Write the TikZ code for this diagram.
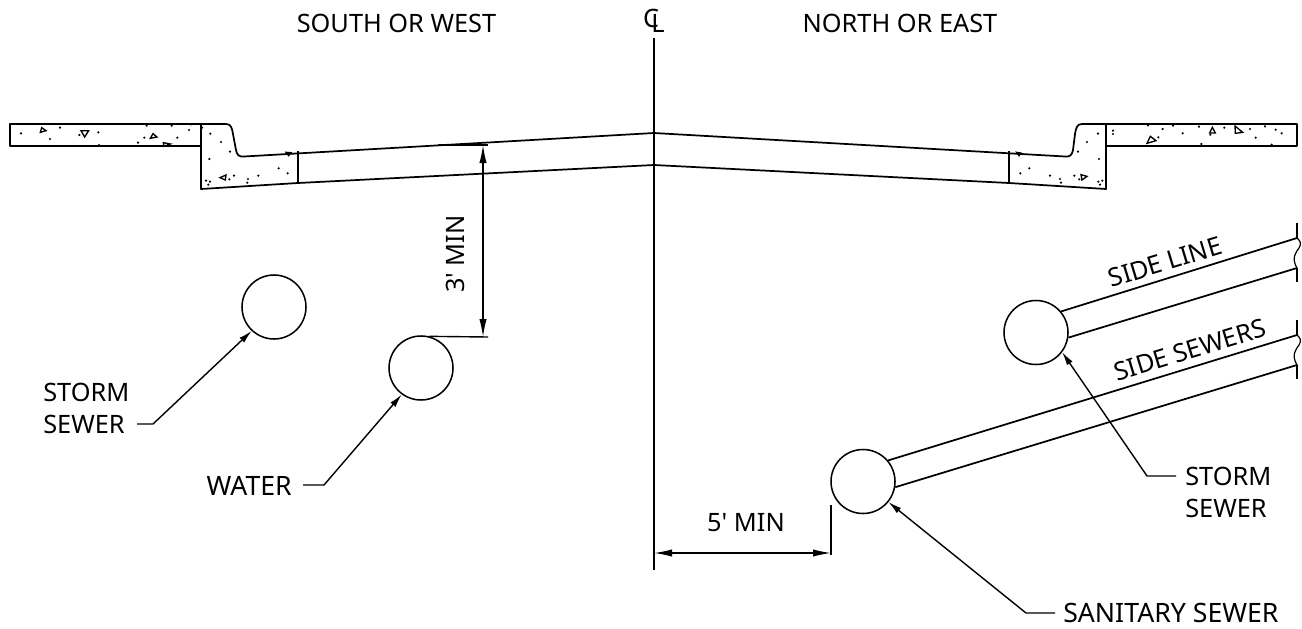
\documentclass[tikz,border=0pt]{standalone}
\usepackage{fontspec}
\newfontfamily\labelfont{Noto Sans}
\usetikzlibrary{arrows.meta}
\tikzset{
  every node/.style={font=\labelfont\fontsize{19pt}{24pt}\selectfont,inner sep=0pt,text=black},
  wide text/.style={font=\labelfont\fontsize{20pt}{24pt}\selectfont},
  ln/.style={line width=1.3pt,line join=round},
  thin ln/.style={line width=1.05pt},
  pipe/.style={draw,circle,line width=1.15pt,minimum size=48pt,inner sep=0pt},
  dim/.style={line width=1.05pt,{Latex[length=13.5pt,width=5.5pt]}-{Latex[length=13.5pt,width=5.5pt]}},
  leader/.style={line width=1.05pt,-{Latex[length=10pt,width=5pt]}},
  pt/.style={fill=black},
  tri/.style={line width=1pt,line join=miter},
}
\begin{document}
\begin{tikzpicture}[x=0.75pt,y=-0.75pt]
\useasboundingbox (0,0) rectangle (1302,628);
% titles
\node (sw) at (396.5,23) {SOUTH OR WEST};
\node (ne) at (900,23) {NORTH OR EAST};
\node (clc) at (651,18) {C};
\node (cll) at (658,23) {L};
% centre line
\coordinate (cltop) at (654,38);
\coordinate (clbot) at (654,570);
\draw[thin ln] (cltop) -- (clbot);
% road
\draw[ln] (10,124) rectangle (201,146);
\draw[ln] (1106,124) rectangle (1297,146);
\draw[ln] (201,124) -- (201,189) -- (298,183) -- (654,165) -- (1009,183) -- (1106,189) -- (1106,124);
\draw[ln] (201,124) -- (226,124) .. controls (231,124) and (232,128) .. (233,134) -- (236,150) .. controls (237,155) and (239,157) .. (244,156.5) -- (654,133) -- (1065,156.5) .. controls (1070,157) and (1072,155) .. (1073,150) -- (1075,134) .. controls (1076,128) and (1077,124) .. (1082,124) -- (1106,124);
\draw[ln] (298,151) -- (298,183);
\draw[ln] (1009,151) -- (1009,183);
% concrete speckle
\begin{scope}[shift={(0,100)},x=0.25pt,y=-0.25pt]
\foreach \a/\b in {63/100,150/117,180/83,238/105,295/97,440/77,515/77,573/73,567/90,532/113,433/113,414/128,297/135,631/101,663/126,690/155,628/177,836/205,863/220,775/227,744/237,742/248,752/258,702/227,688/238,618/242,630/245,625/254,606/83}
  \fill[pt] (\a,\b) circle (3.6);
\foreach \a/\b in {369/92,369/102,518/87,549/77,578/100,627/80,703/83,780/87,797/113,825/79,857/89,875/100,505/112,661/104,634/132,845/134,474/76,324/101,291/126,264/155,327/177,118/205,91/220,180/227,210/237,213/248,199/258,253/227,268/238,337/242,325/245,330/254}
  \fill[pt] (\a+2970,\b) circle (3.6);
\draw[tri] (121,97) -- (125,83) -- (138,92) -- cycle;
\draw[tri] (243,92) -- (266,92) -- (254,111) -- cycle;
\draw[tri] (451,115) -- (459,101) -- (471,111) -- cycle;
\draw[tri] (490,128) -- (511,132) -- (492,139) -- cycle;
\draw[tri] (660,233) -- (678,225) -- (676,240) -- cycle;
\draw[tri] (858,157) -- (873,158) -- (866,167) -- cycle;
\draw[tri] (3441,130) -- (3468,122) -- (3451,109) -- cycle;
\draw[tri] (3629,99) -- (3637,82) -- (3646,99) -- cycle;
\draw[tri] (3705,78) -- (3728,97) -- (3706,100) -- cycle;
\draw[tri] (3243,224) -- (3261,229) -- (3246,240) -- cycle;
\draw[tri] (3050,157) -- (3062,159) -- (3057,167) -- cycle;
\end{scope}
% pipes
\node[pipe] (stormL) at (274,307) {};
\node[pipe] (water) at (421,368) {};
\node[pipe] (stormR) at (1036,332.5) {};
\node[pipe] (san) at (863,481.5) {};
% side lines
\coordinate (b1a) at (1297,238); \coordinate (b1b) at (1297,268);
\coordinate (b2a) at (1297,335); \coordinate (b2b) at (1297,365);
\draw[ln] (stormR.40) -- (b1a);
\draw[ln] (stormR.-9) -- (b1b);
\draw[ln] (san.40) -- (b2a);
\draw[ln] (san.-10) -- (b2b);
\foreach \o in {0,97}{
  \draw[line width=1.5pt] (1297,223+\o) -- (1297,238+\o);
  \draw[line width=0.9pt] (1297,238+\o) .. controls (1300,241+\o) and (1302,243+\o) .. (1299,248+\o) .. controls (1296,252+\o) and (1291,258+\o) .. (1297,268+\o);
  \draw[line width=1.5pt] (1297,268+\o) -- (1297,282+\o);
}
\node[rotate=16.9] (sl) at (1165,262) {SIDE LINE};
\node[rotate=16.9] (ss) at (1190,350) {SIDE SEWERS};
% dimensions
\coordinate (d3a) at (483,145); \coordinate (d3b) at (483,337);
\draw[thin ln] (438,145) -- (488,145);
\draw[thin ln] (water.75) -- (488,337);
\draw[dim] (d3a) -- (d3b);
\node[rotate=90] (d3) at (455,254) {3' MIN};
\coordinate (d5a) at (654,553); \coordinate (d5b) at (831,553);
\draw[thin ln] (831,505) -- (831,555);
\draw[dim] (d5a) -- (d5b);
\node (d5) at (746,523) {5' MIN};
% labels and leaders
\node[align=left,anchor=west] (lstormL) at (43,408) {STORM\\SEWER};
\node[anchor=east,wide text] (lwater) at (292,486) {WATER};
\node[align=left,anchor=west] (lstormR) at (1185,492.5) {STORM\\SEWER};
\node[anchor=west,wide text] (lsan) at (1063,613) {SANITARY SEWER};
\coordinate (k1) at (153,424);
\coordinate (k2) at (324,485);
\coordinate (k3) at (1147,476);
\coordinate (k4) at (1026,613);
\draw[leader] (137,424) -- (k1) -- (stormL.227);
\draw[leader] (303,485) -- (k2) -- (water.234);
\draw[leader] (1176,476) -- (k3) -- (stormR.-37);
\draw[leader] (1055,613) -- (k4) -- (san.-39);
\end{tikzpicture}
\end{document}
